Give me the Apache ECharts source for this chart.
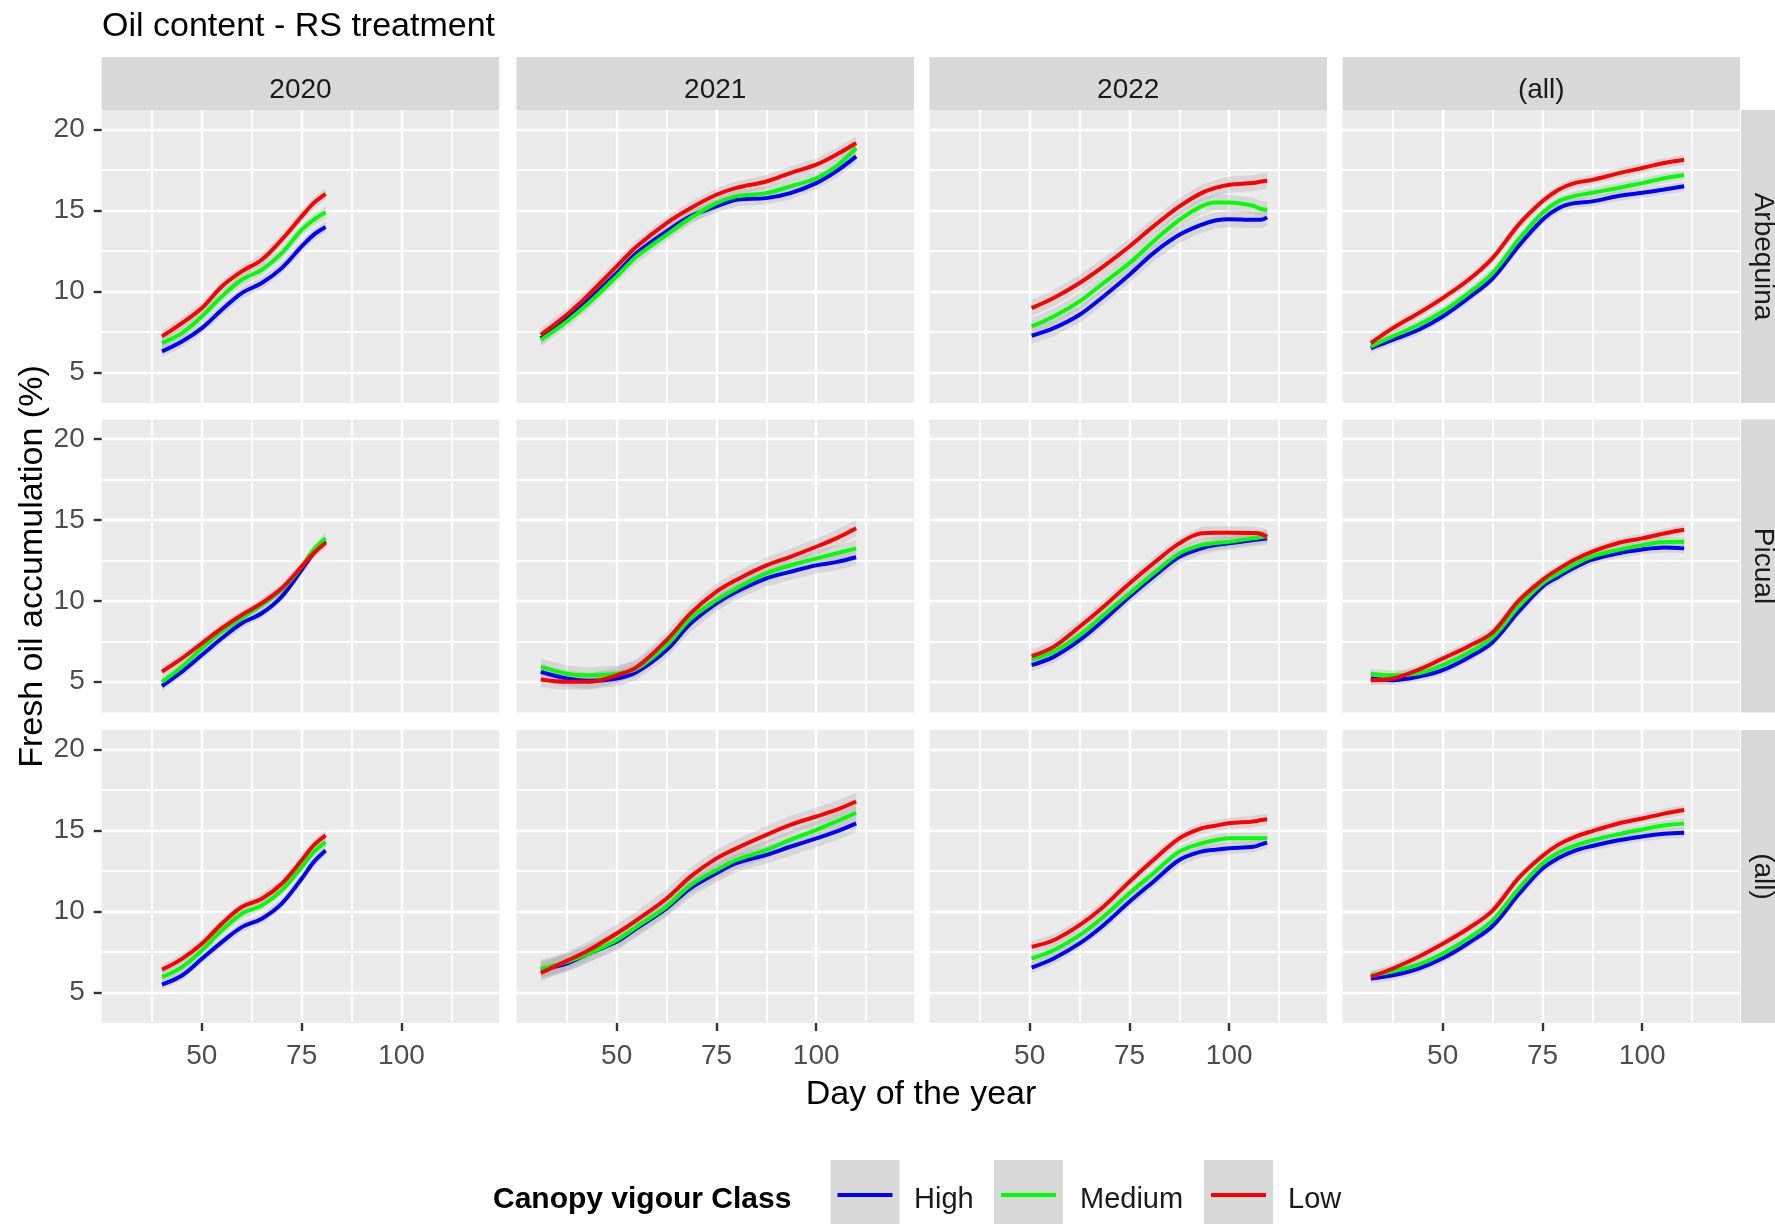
<!DOCTYPE html>
<html>
<head>
<meta charset="utf-8">
<script src="https://cdn.jsdelivr.net/npm/echarts@6/dist/echarts.min.js"></script>
<style>
  html, body { margin: 0; padding: 0; background: #ffffff; }
  #chart { width: 1775px; height: 1224px; }
</style>
</head>
<body>
<div id="chart"></div>
<script>
// ---- facet labels and classes ----
const years = ['2020', '2021', '2022', '(all)'];
const varieties = ['Arbequina', 'Picual', '(all)'];
const classes = ['High', 'Medium', 'Low'];
const classColors = ['#0000FF', '#00FF00', '#FF0000'];

// ---- axis breaks ----
const xTicks = [50, 75, 100];
const xMinorBreaks = [37.5, 62.5, 87.5, 112.5];
const yTicks = [5, 10, 15, 20];
const yMinorBreaks = [7.5, 12.5, 17.5];

// ---- day of year sampled per season column ----
const days2020 = [40, 45, 50, 55, 60, 65, 70, 75, 78, 81];
const days2021 = [31, 37.5, 43, 50, 55, 62.5, 68.5, 75, 80, 87.5, 93.5, 100, 105, 110];
const days2022 = [50.5, 56, 62.5, 68.5, 75, 81, 87.5, 93, 96.5, 100, 106, 108, 109.5];
const daysAll  = [32, 37.5, 44, 50, 56.5, 62.5, 69, 75, 79, 83, 87.5, 94, 100, 105.5, 110.5];

// ---- fresh oil accumulation (%) : Arbequina ----
const arb2020High   = [6.29, 6.9, 7.73, 8.87, 9.9, 10.52, 11.44, 12.78, 13.5, 13.98];
const arb2020Medium = [6.8, 7.42, 8.45, 9.69, 10.72, 11.34, 12.37, 13.81, 14.43, 14.89];
const arb2020Low    = [7.22, 8.04, 8.97, 10.31, 11.24, 11.96, 13.2, 14.64, 15.46, 16.04];
const arb2021High   = [7.1, 8.35, 9.48, 11.13, 12.37, 13.71, 14.64, 15.26, 15.67, 15.77, 16.08, 16.7, 17.42, 18.35];
const arb2021Medium = [7.0, 8.14, 9.28, 10.93, 12.16, 13.5, 14.54, 15.46, 15.88, 16.08, 16.5, 17.0, 17.73, 18.87];
const arb2021Low    = [7.32, 8.56, 9.8, 11.55, 12.78, 14.23, 15.15, 15.98, 16.4, 16.8, 17.32, 17.84, 18.45, 19.18];
const arb2022High   = [7.26, 7.73, 8.56, 9.69, 11.03, 12.37, 13.5, 14.12, 14.39, 14.47, 14.43, 14.43, 14.58];
const arb2022Medium = [7.84, 8.45, 9.38, 10.52, 11.75, 13.09, 14.43, 15.26, 15.5, 15.5, 15.3, 15.1, 15.05];
const arb2022Low    = [8.97, 9.59, 10.52, 11.55, 12.78, 14.02, 15.26, 16.08, 16.4, 16.6, 16.7, 16.8, 16.85];
const arbAllHigh    = [6.5, 7.0, 7.63, 8.45, 9.6, 10.8, 12.8, 14.43, 15.15, 15.46, 15.57, 15.9, 16.1, 16.3, 16.5];
const arbAllMedium  = [6.6, 7.22, 7.94, 8.76, 9.9, 11.13, 13.2, 14.85, 15.57, 15.9, 16.1, 16.4, 16.7, 17.0, 17.2];
const arbAllLow     = [6.8, 7.73, 8.66, 9.59, 10.72, 12.06, 14.12, 15.57, 16.29, 16.7, 16.9, 17.3, 17.63, 17.94, 18.14];

// ---- Picual ----
const pic2020High   = [4.74, 5.63, 6.66, 7.69, 8.62, 9.24, 10.27, 11.92, 12.95, 13.67];
const pic2020Medium = [5.0, 5.93, 7.07, 8.1, 8.93, 9.75, 10.68, 12.12, 13.16, 13.88];
const pic2020Low    = [5.63, 6.45, 7.38, 8.31, 9.13, 9.86, 10.78, 12.12, 12.95, 13.6];
const pic2021High   = [5.61, 5.2, 5.06, 5.2, 5.6, 6.96, 8.6, 9.85, 10.57, 11.4, 11.8, 12.2, 12.4, 12.7];
const pic2021Medium = [5.92, 5.5, 5.4, 5.5, 5.8, 7.26, 8.9, 10.05, 10.77, 11.7, 12.2, 12.63, 12.94, 13.25];
const pic2021Low    = [5.14, 5.0, 5.0, 5.4, 5.9, 7.57, 9.23, 10.57, 11.3, 12.2, 12.73, 13.35, 13.87, 14.5];
const pic2022High   = [6.03, 6.54, 7.57, 8.8, 10.26, 11.5, 12.73, 13.25, 13.45, 13.56, 13.77, 13.83, 13.87];
const pic2022Medium = [6.38, 6.85, 7.88, 9.12, 10.46, 11.7, 12.94, 13.45, 13.58, 13.66, 13.87, 13.95, 14.0];
const pic2022Low    = [6.58, 7.16, 8.4, 9.64, 11.08, 12.32, 13.56, 14.18, 14.22, 14.22, 14.2, 14.14, 13.97];
const picAllHigh    = [5.2, 5.1, 5.32, 5.72, 6.5, 7.45, 9.33, 10.88, 11.5, 12.05, 12.55, 12.95, 13.18, 13.3, 13.25];
const picAllMedium  = [5.5, 5.4, 5.52, 6.03, 6.8, 7.75, 9.64, 11.08, 11.69, 12.25, 12.75, 13.16, 13.45, 13.65, 13.66];
const picAllLow     = [5.1, 5.2, 5.75, 6.44, 7.2, 8.05, 10.0, 11.3, 11.97, 12.55, 13.05, 13.58, 13.87, 14.17, 14.4];

// ---- both varieties pooled ----
const all2020High   = [5.48, 6.04, 7.07, 8.1, 9.03, 9.55, 10.48, 12.02, 13.05, 13.77];
const all2020Medium = [5.94, 6.56, 7.59, 8.83, 9.86, 10.37, 11.3, 12.74, 13.67, 14.29];
const all2020Low    = [6.4, 7.07, 8.0, 9.24, 10.27, 10.78, 11.71, 13.16, 14.08, 14.7];
const all2021High   = [6.4, 6.78, 7.4, 8.12, 8.95, 10.19, 11.43, 12.36, 12.98, 13.5, 14.0, 14.52, 14.94, 15.45];
const all2021Medium = [6.47, 6.88, 7.4, 8.22, 9.05, 10.3, 11.63, 12.56, 13.18, 13.8, 14.42, 15.04, 15.56, 16.1];
const all2021Low    = [6.2, 6.94, 7.6, 8.64, 9.46, 10.8, 12.15, 13.28, 13.9, 14.73, 15.35, 15.87, 16.28, 16.8];
const all2022High   = [6.53, 7.09, 8.02, 9.15, 10.6, 11.84, 13.18, 13.7, 13.82, 13.9, 14.0, 14.15, 14.26];
const all2022Medium = [7.09, 7.6, 8.53, 9.67, 11.12, 12.36, 13.7, 14.2, 14.4, 14.52, 14.52, 14.52, 14.52];
const all2022Low    = [7.81, 8.22, 9.15, 10.29, 11.84, 13.18, 14.52, 15.14, 15.3, 15.45, 15.56, 15.65, 15.7];
const allAllHigh    = [5.85, 6.05, 6.47, 7.1, 8.05, 9.1, 11.05, 12.65, 13.3, 13.75, 14.05, 14.4, 14.64, 14.8, 14.87];
const allAllMedium  = [6.05, 6.3, 6.73, 7.4, 8.35, 9.45, 11.4, 12.96, 13.63, 14.05, 14.4, 14.78, 15.07, 15.32, 15.43];
const allAllLow     = [5.95, 6.47, 7.2, 8.0, 8.96, 10.05, 12.06, 13.43, 14.13, 14.6, 14.97, 15.44, 15.75, 16.05, 16.27];

// ---- half-width of the smoother confidence band, per facet (rows x columns) ----
const ribbonHalfWidth = [
  [0.35, 0.4, 0.5, 0.3],
  [0.3, 0.5, 0.4, 0.3],
  [0.3, 0.55, 0.35, 0.3]
];

// ---- assemble facet tables ----
const dayColumns = [days2020, days2021, days2022, daysAll];
const facetValues = [
  [[arb2020High, arb2020Medium, arb2020Low], [arb2021High, arb2021Medium, arb2021Low],
   [arb2022High, arb2022Medium, arb2022Low], [arbAllHigh, arbAllMedium, arbAllLow]],
  [[pic2020High, pic2020Medium, pic2020Low], [pic2021High, pic2021Medium, pic2021Low],
   [pic2022High, pic2022Medium, pic2022Low], [picAllHigh, picAllMedium, picAllLow]],
  [[all2020High, all2020Medium, all2020Low], [all2021High, all2021Medium, all2021Low],
   [all2022High, all2022Medium, all2022Low], [allAllHigh, allAllMedium, allAllLow]]
];

// ---- layout ----
const FONT = "'Liberation Sans', Arial, Helvetica, sans-serif";
const colLeft = [101.7, 516.5, 929.5, 1342.5];
const rowTop = [110, 419.5, 730];
const panelW = 397.5;
const panelH = 293;
const X_MIN = 24.9, X_MAX = 124.5;
const Y_MIN = 3.1, Y_MAX = 21.22;
const stripTop = 57;
const stripRightX = 1741;

const grids = [], xAxes = [], yAxes = [], series = [], graphics = [];

function axisBase(gridIndex, min, max) {
  return {
    gridIndex, type: 'value', min, max,
    axisLine: { show: false },
    splitArea: { show: false }
  };
}

for (let r = 0; r < 3; r++) {
  for (let c = 0; c < 4; c++) {
    const g = grids.length;
    grids.push({
      left: colLeft[c], top: rowTop[r], width: panelW, height: panelH,
      show: true, backgroundColor: '#EBEBEB', borderWidth: 0,
      containLabel: false, outerBoundsMode: 'none'
    });
    const showX = r === 2, showY = c === 0;
    // major x axis (breaks, labels, ticks)
    xAxes.push(Object.assign(axisBase(g, X_MIN, X_MAX), {
      position: 'bottom',
      axisTick: { show: showX, customValues: xTicks, length: 8, lineStyle: { color: '#333333', width: 2.4 } },
      axisLabel: { show: showX, customValues: xTicks, margin: 19, fontSize: 28, color: '#4D4D4D', fontFamily: FONT },
      splitLine: { show: true, lineStyle: { color: '#FFFFFF', width: 2.4 } }
    }));
    // minor x grid
    xAxes.push(Object.assign(axisBase(g, X_MIN, X_MAX), {
      position: 'top',
      axisTick: { show: false, customValues: xMinorBreaks },
      axisLabel: { show: false, customValues: xMinorBreaks },
      splitLine: { show: true, lineStyle: { color: '#FFFFFF', width: 1.8 } }
    }));
    yAxes.push(Object.assign(axisBase(g, Y_MIN, Y_MAX), {
      position: 'left',
      axisTick: { show: showY, customValues: yTicks, length: 8, lineStyle: { color: '#333333', width: 2.4 } },
      axisLabel: { show: showY, customValues: yTicks, margin: 17, fontSize: 28, color: '#4D4D4D', fontFamily: FONT,
                   padding: [9, 0, 0, 0] },
      splitLine: { show: true, lineStyle: { color: '#FFFFFF', width: 2.4 } }
    }));
    yAxes.push(Object.assign(axisBase(g, Y_MIN, Y_MAX), {
      position: 'right',
      axisTick: { show: false, customValues: yMinorBreaks },
      axisLabel: { show: false, customValues: yMinorBreaks },
      splitLine: { show: true, lineStyle: { color: '#FFFFFF', width: 1.8 } }
    }));
    const xi = 2 * g, yi = 2 * g;
    const days = dayColumns[c];
    const pad = ribbonHalfWidth[r][c];

    // confidence ribbons
    facetValues[r][c].forEach((vals) => {
      series.push({
        type: 'custom', xAxisIndex: xi, yAxisIndex: yi, z: 1, silent: true,
        data: days.map((d, i) => [d, vals[i] - pad, vals[i] + pad]),
        encode: { x: 0, y: [1, 2] },
        renderItem: (params, api) => {
          if (params.dataIndex !== 0) return null;
          const upper = [], lower = [];
          for (let i = 0; i < days.length; i++) {
            upper.push(api.coord([days[i], vals[i] + pad]));
            lower.push(api.coord([days[i], vals[i] - pad]));
          }
          return {
            type: 'polygon',
            shape: { points: upper.concat(lower.reverse()) },
            style: { fill: 'rgba(150,150,150,0.24)' }
          };
        }
      });
    });
    // smoothed lines (High, Medium, Low drawn in that order)
    facetValues[r][c].forEach((vals, k) => {
      series.push({
        type: 'line', name: classes[k], xAxisIndex: xi, yAxisIndex: yi, z: 3,
        data: days.map((d, i) => [d, vals[i]]),
        showSymbol: false, smooth: 0.35, silent: true,
        lineStyle: { color: classColors[k], width: 4 },
        itemStyle: { color: classColors[k] }
      });
    });
  }
}

// ---- facet strips ----
years.forEach((y, c) => {
  graphics.push({ type: 'rect', silent: true, shape: { x: colLeft[c], y: stripTop, width: panelW, height: rowTop[0] - stripTop }, style: { fill: '#D9D9D9' } });
  graphics.push({ type: 'text', silent: true, x: colLeft[c] + panelW / 2, y: 90.5,
    style: { text: y, fontSize: 28, fontFamily: FONT, fill: '#1A1A1A', align: 'center', verticalAlign: 'middle' } });
});
varieties.forEach((v, r) => {
  graphics.push({ type: 'rect', silent: true, shape: { x: stripRightX, y: rowTop[r], width: 40, height: panelH }, style: { fill: '#D9D9D9' } });
  graphics.push({ type: 'text', silent: true, x: 1763, y: rowTop[r] + panelH / 2, rotation: -Math.PI / 2,
    style: { text: v, fontSize: 28, fontFamily: FONT, fill: '#1A1A1A', align: 'center', verticalAlign: 'middle' } });
});

// ---- titles ----
graphics.push({ type: 'text', silent: true, x: 102, y: 27,
  style: { text: 'Oil content - RS treatment', fontSize: 34, fontFamily: FONT, fill: '#000000', align: 'left', verticalAlign: 'middle' } });
graphics.push({ type: 'text', silent: true, x: 921, y: 1094.5,
  style: { text: 'Day of the year', fontSize: 34, fontFamily: FONT, fill: '#000000', align: 'center', verticalAlign: 'middle' } });
graphics.push({ type: 'text', silent: true, x: 33, y: 566.5, rotation: Math.PI / 2,
  style: { text: 'Fresh oil accumulation (%)', fontSize: 34, fontFamily: FONT, fill: '#000000', align: 'center', verticalAlign: 'middle' } });

// ---- legend ----
const legendY = 1199.5;
graphics.push({ type: 'text', silent: true, x: 493, y: legendY,
  style: { text: 'Canopy vigour Class', fontSize: 30, fontWeight: 'bold', fontFamily: FONT, fill: '#000000', align: 'left', verticalAlign: 'middle' } });
const keyX = [830.5, 994, 1204];
const labelX = [914, 1080, 1288];
classes.forEach((name, k) => {
  graphics.push({ type: 'rect', silent: true, shape: { x: keyX[k], y: 1160, width: 69, height: 70 }, style: { fill: '#D9D9D9' } });
  graphics.push({ type: 'line', silent: true, shape: { x1: keyX[k] + 7, y1: 1195, x2: keyX[k] + 62, y2: 1195 },
    style: { stroke: classColors[k], lineWidth: 4 } });
  graphics.push({ type: 'text', silent: true, x: labelX[k], y: legendY,
    style: { text: name, fontSize: 29, fontFamily: FONT, fill: '#1A1A1A', align: 'left', verticalAlign: 'middle' } });
});

const chart = echarts.init(document.getElementById('chart'), null, { renderer: 'canvas' });
chart.setOption({
  animation: false,
  backgroundColor: '#FFFFFF',
  grid: grids,
  xAxis: xAxes,
  yAxis: yAxes,
  series: series,
  graphic: { elements: graphics }
});
</script>
</body>
</html>
